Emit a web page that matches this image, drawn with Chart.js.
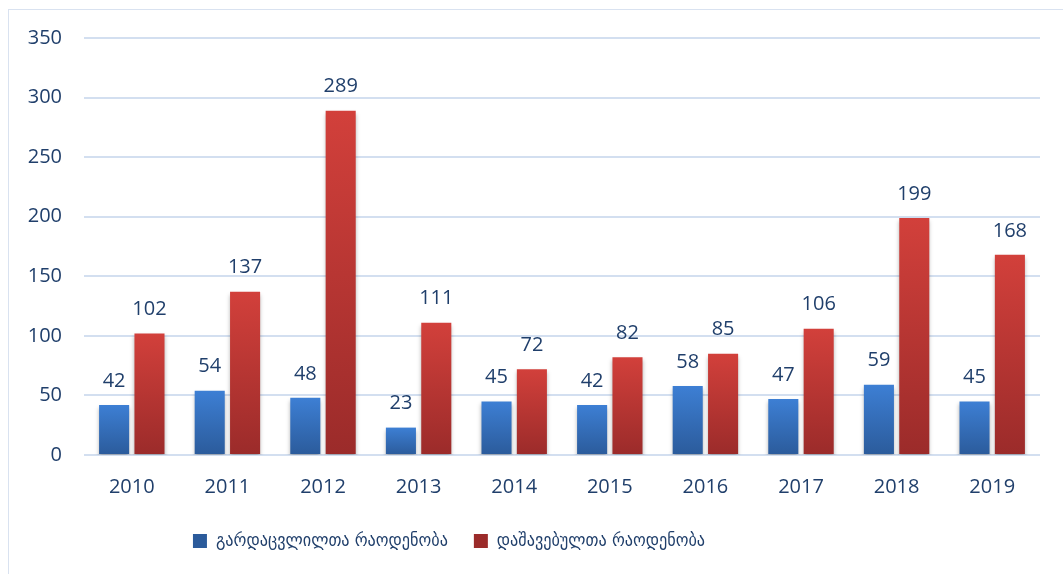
<!DOCTYPE html>
<html>
<head>
<meta charset="utf-8">
<script src="https://cdn.jsdelivr.net/npm/chart.js@4/dist/chart.umd.min.js"></script>
<style>
  html, body { margin: 0; padding: 0; background: #fff; }
  #frame { position: absolute; left: 8px; top: 9px; width: 1100px; height: 600px; border: 1px solid #d9e2f0; }
  #wrap { position: absolute; left: 0; top: 0; width: 1063px; height: 574px; }
</style>
</head>
<body>
<div id="frame"></div>
<div id="wrap"><canvas id="myBarChart"></canvas></div>
<script>
// chart data
var years = ["2010", "2011", "2012", "2013", "2014", "2015", "2016", "2017", "2018", "2019"];
var deaths = [42, 54, 48, 23, 45, 42, 58, 47, 59, 45];
var injured = [102, 137, 289, 111, 72, 82, 85, 106, 199, 168];
var seriesNames = ["გარდაცვლილთა რაოდენობა", "დაშავებულთა რაოდენობა"];

var textColor = "#203f6b";
var fontFam = "'Open Sans', 'DejaVu Sans', sans-serif";

// gradient per bar, lighter at top
function barFill(top, bottom, solid) {
  return function (ctx) {
    if (ctx.type !== "data" || !ctx.chart.scales.y) return solid;
    var y = ctx.chart.scales.y;
    var y0 = y.getPixelForValue(ctx.parsed.y);
    var y1 = y.getPixelForValue(0);
    if (!isFinite(y0) || y1 - y0 < 1) return solid;
    var g = ctx.chart.ctx.createLinearGradient(0, y0, 0, y1);
    g.addColorStop(0, top);
    g.addColorStop(1, bottom);
    return g;
  };
}

// labels above bars + soft shadow
var barExtras = {
  id: "barExtras",
  beforeDatasetsDraw: function (chart) {
    var c = chart.ctx;
    c.save();
    c.shadowColor = "rgba(0,0,0,0.28)";
    c.shadowBlur = 4;
    c.shadowOffsetY = 3;
  },
  afterDatasetsDraw: function (chart) {
    var c = chart.ctx;
    c.restore();
    c.save();
    c.font = "20px " + fontFam;
    c.fillStyle = textColor;
    c.textAlign = "center";
    c.textBaseline = "middle";
    chart.data.datasets.forEach(function (ds, i) {
      chart.getDatasetMeta(i).data.forEach(function (bar, j) {
        c.fillText(ds.data[j], bar.x, bar.y - 24);
      });
    });
    c.restore();
  }
};

var ctx = document.getElementById("myBarChart");
var myBarChart = new Chart(ctx, {
  type: "bar",
  data: {
    labels: years,
    datasets: [
      {
        label: seriesNames[0],
        data: deaths,
        backgroundColor: barFill("#3d7fd4", "#2b5b9b", "#3470bd"),
        borderWidth: 0,
      },
      {
        label: seriesNames[1],
        data: injured,
        backgroundColor: barFill("#d2403b", "#9b2b2a", "#c03934"),
        borderWidth: 0,
      },
    ],
  },
  options: {
    responsive: true,
    maintainAspectRatio: false,
    animation: false,
    layout: { padding: { left: 0, right: 23, top: 38, bottom: 0 } },
    datasets: { bar: { categoryPercentage: 0.74, barPercentage: 0.85 } },
    scales: {
      x: {
        grid: { display: false },
        border: { display: false },
        ticks: { color: textColor, font: { size: 20, family: fontFam }, padding: 12 },
      },
      y: {
        min: 0,
        max: 350,
        afterFit: function (s) { s.width = 84; },
        grid: { color: "#d3dff0", lineWidth: 2, drawTicks: false },
        border: { display: false },
        ticks: { stepSize: 50, color: textColor, font: { size: 20, family: fontFam }, padding: 22 },
      },
    },
    plugins: {
      legend: {
        position: "bottom",
        labels: {
          color: textColor,
          font: { size: 18, family: "'DejaVu Sans Condensed', 'DejaVu Sans', sans-serif" },
          boxWidth: 14,
          boxHeight: 14,
          padding: 26,
        },
      },
      tooltip: { enabled: false },
    },
  },
  plugins: [barExtras],
});

// legend: shorter box, items nudged up/left like the original
var lg = myBarChart.legend;
var origFit = lg.fit;
lg.fit = function () {
  origFit.call(this);
  this.height = 63;
};
var origDraw = lg.draw;
lg.draw = function () {
  var c = this.ctx;
  c.save();
  c.translate(-71, -5);
  origDraw.call(this);
  c.restore();
};
myBarChart.update();
</script>
</body>
</html>
